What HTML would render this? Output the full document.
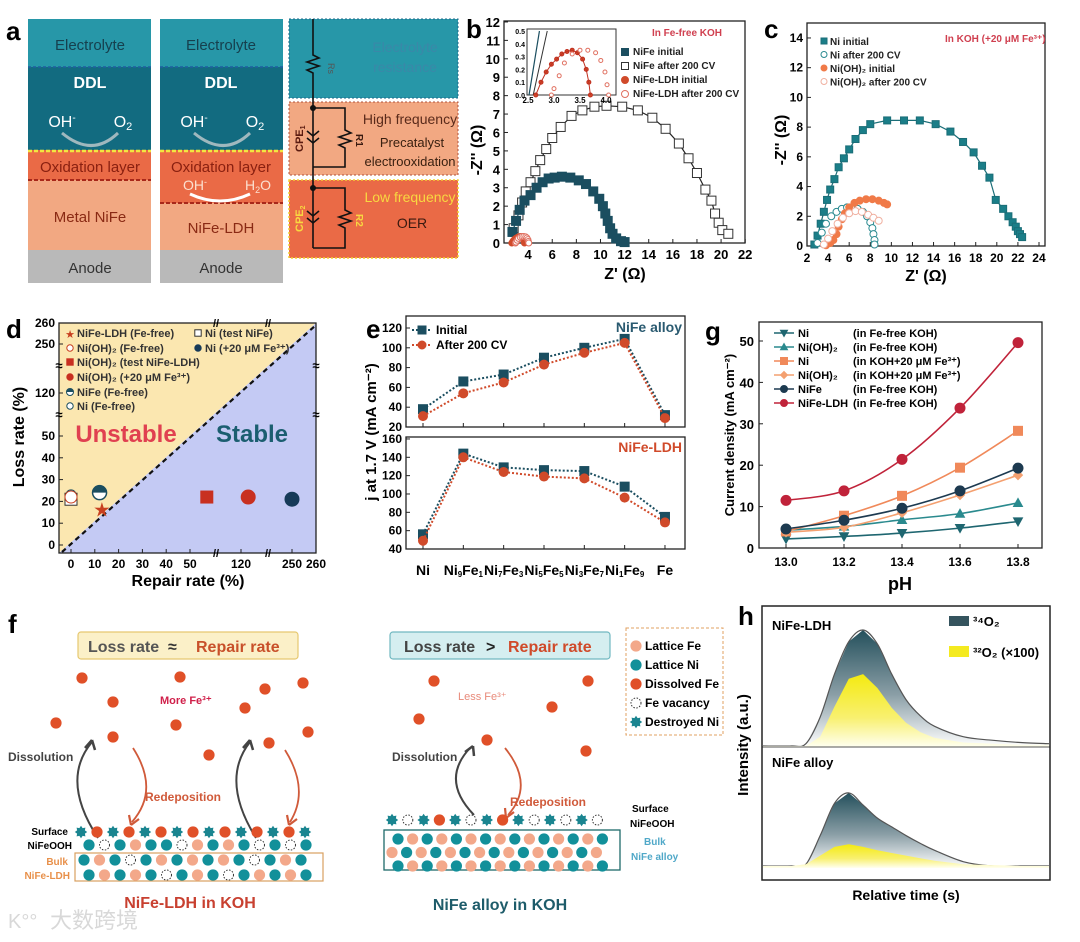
<!DOCTYPE html>
<html><head><meta charset="utf-8"><style>
html,body{margin:0;padding:0;background:#fff;}
svg{display:block;font-family:"Liberation Sans",Arial,sans-serif;}
</style></head><body>
<svg id="root" width="1080" height="942" viewBox="0 0 1080 942" xmlns="http://www.w3.org/2000/svg">
<defs>
<linearGradient id="gDark" x1="0" y1="0" x2="0" y2="1"><stop offset="0" stop-color="#24505c"/><stop offset="0.55" stop-color="#8a9ea6"/><stop offset="1" stop-color="#ffffff"/></linearGradient>
<linearGradient id="gYel" x1="0" y1="0" x2="0" y2="1"><stop offset="0" stop-color="#f4ea10"/><stop offset="0.6" stop-color="#f8f070"/><stop offset="1" stop-color="#fffff0"/></linearGradient>
</defs>

<!-- ===== Panel a ===== -->
<g>
<text x="6" y="40" font-size="26" font-weight="bold">a</text>
<g>
<rect x="28" y="19" width="123" height="48" fill="#2797a8"/>
<rect x="28" y="67" width="123" height="83" fill="#126b80"/>
<line x1="28" y1="67" x2="151" y2="67" stroke="#1f5fa0" stroke-dasharray="3,2" stroke-width="1.5"/>
<rect x="28" y="150" width="123" height="30" fill="#ea6a46"/>
<rect x="28" y="180" width="123" height="70" fill="#f2a882"/>
<rect x="28" y="250" width="123" height="33" fill="#b9b9b9"/>
<line x1="28" y1="151" x2="151" y2="151" stroke="#f2e640" stroke-dasharray="4,2" stroke-width="2.5"/>
<line x1="28" y1="180" x2="151" y2="180" stroke="#a8281a" stroke-dasharray="4,2" stroke-width="2"/>
<text x="90" y="50" font-size="15" fill="#16404e" text-anchor="middle">Electrolyte</text>
<text x="90" y="88" font-size="16" font-weight="bold" fill="#fff" text-anchor="middle">DDL</text>
<text x="62" y="127" font-size="16" fill="#fff" text-anchor="middle">OH<tspan font-size="10" dy="-6">-</tspan></text>
<text x="123" y="127" font-size="16" fill="#fff" text-anchor="middle">O<tspan font-size="11" dy="3">2</tspan></text>
<path d="M62 133 Q92 158 118 133" fill="none" stroke="#9fb8be" stroke-width="3"/>
<text x="90" y="172" font-size="15" fill="#8a2010" text-anchor="middle">Oxidation layer</text>
<text x="90" y="222" font-size="15" fill="#8a2a14" text-anchor="middle">Metal NiFe</text>
<text x="90" y="273" font-size="15" fill="#333" text-anchor="middle">Anode</text>
</g>
<g>
<rect x="160" y="19" width="123" height="48" fill="#2797a8"/>
<rect x="160" y="67" width="123" height="83" fill="#126b80"/>
<line x1="160" y1="67" x2="283" y2="67" stroke="#1f5fa0" stroke-dasharray="3,2" stroke-width="1.5"/>
<rect x="160" y="150" width="123" height="53" fill="#ea6a46"/>
<rect x="160" y="203" width="123" height="47" fill="#f2a882"/>
<rect x="160" y="250" width="123" height="33" fill="#b9b9b9"/>
<line x1="160" y1="151" x2="283" y2="151" stroke="#f2e640" stroke-dasharray="4,2" stroke-width="2.5"/>
<line x1="160" y1="203" x2="283" y2="203" stroke="#a8281a" stroke-dasharray="4,2" stroke-width="2"/>
<text x="221" y="50" font-size="15" fill="#16404e" text-anchor="middle">Electrolyte</text>
<text x="221" y="88" font-size="16" font-weight="bold" fill="#fff" text-anchor="middle">DDL</text>
<text x="194" y="127" font-size="16" fill="#fff" text-anchor="middle">OH<tspan font-size="10" dy="-6">-</tspan></text>
<text x="255" y="127" font-size="16" fill="#fff" text-anchor="middle">O<tspan font-size="11" dy="3">2</tspan></text>
<path d="M194 133 Q224 158 250 133" fill="none" stroke="#9fb8be" stroke-width="3"/>
<text x="221" y="172" font-size="15" fill="#8a2010" text-anchor="middle">Oxidation layer</text>
<text x="195" y="190" font-size="14" fill="#fbe0d0" text-anchor="middle">OH<tspan font-size="9" dy="-5">-</tspan></text>
<text x="258" y="190" font-size="14" fill="#fbe0d0" text-anchor="middle">H<tspan font-size="9" dy="3">2</tspan><tspan dy="-3">O</tspan></text>
<path d="M190 194 Q220 208 250 194" fill="none" stroke="#fff" stroke-width="3"/>
<text x="221" y="233" font-size="15" fill="#8a2a14" text-anchor="middle">NiFe-LDH</text>
<text x="221" y="273" font-size="15" fill="#333" text-anchor="middle">Anode</text>
</g>
<g>
<rect x="289" y="19" width="169" height="79" fill="#2797a8" stroke="#1a6a8a" stroke-dasharray="2,2"/>
<rect x="289" y="102" width="169" height="73" fill="#f2a882" stroke="#b0503a" stroke-dasharray="2,2"/>
<rect x="289" y="180" width="169" height="78" fill="#ea6a46" stroke="#f4d030" stroke-dasharray="2,2" stroke-width="1.5"/>
<text x="405" y="52" font-size="14" fill="#3a88a8" text-anchor="middle">Electrolyte</text>
<text x="405" y="72" font-size="14" fill="#3a88a8" text-anchor="middle">resistance</text>
<text x="410" y="124" font-size="14" fill="#5a2a1a" text-anchor="middle">High frequency</text>
<text x="412" y="147" font-size="13" fill="#3a2010" text-anchor="middle">Precatalyst</text>
<text x="410" y="166" font-size="13" fill="#3a2010" text-anchor="middle">electrooxidation</text>
<text x="410" y="202" font-size="14" fill="#f8d840" text-anchor="middle">Low frequency</text>
<text x="412" y="228" font-size="14" fill="#3a1a10" text-anchor="middle">OER</text>
<path d="M313 19 V55 l6 3 -12 4 12 4 -12 4 6 3 V108 V188 V248" fill="none" stroke="#111" stroke-width="1.6"/>
<path d="M313 108 H345 V130 l6 3 -12 4 12 4 -12 4 6 3 V167 H313" fill="none" stroke="#111" stroke-width="1.6"/>
<path d="M313 188 H345 V210 l6 3 -12 4 12 4 -12 4 6 3 V248 H313" fill="none" stroke="#111" stroke-width="1.6"/>
<path d="M307 131 l6 5 6 -5 M307 138 l6 5 6 -5 M307 211 l6 5 6 -5 M307 218 l6 5 6 -5" fill="none" stroke="#111" stroke-width="1.6"/>
<circle cx="313" cy="108" r="3" fill="#111"/><circle cx="313" cy="188" r="3" fill="#111"/>
<text x="328" y="63" font-size="9" fill="#555" transform="rotate(90 328 63)">Rs</text>
<text transform="translate(303,152) rotate(-90)" font-size="11" font-weight="bold" fill="#5a1a10">CPE<tspan font-size="7" dy="2">1</tspan></text>
<text transform="translate(303,232) rotate(-90)" font-size="11" font-weight="bold" fill="#f8d840">CPE<tspan font-size="7" dy="2">2</tspan></text>
<text x="356" y="134" font-size="10" font-weight="bold" fill="#3a1a10" transform="rotate(90 356 134)">R1</text>
<text x="356" y="214" font-size="10" font-weight="bold" fill="#f8d840" transform="rotate(90 356 214)">R2</text>
</g>
</g>

<!-- static labels -->
<text x="466" y="38" font-size="26" font-weight="bold">b</text>
<text x="764" y="38" font-size="26" font-weight="bold">c</text>
<text x="6" y="338" font-size="26" font-weight="bold">d</text>
<text x="366" y="338" font-size="26" font-weight="bold">e</text>
<text x="705" y="340" font-size="26" font-weight="bold">g</text>
<text x="8" y="633" font-size="26" font-weight="bold">f</text>
<text x="738" y="625" font-size="26" font-weight="bold">h</text>

<g id="gb"></g>
<g id="gc"></g>
<g id="gd"></g>
<g id="ge"></g>
<g id="gg"></g>
<g id="gf"></g>
<g id="gh"></g>

<text x="50" y="928" font-size="22" fill="#d8d8d8" font-family="'Liberation Sans','Noto Sans CJK SC',sans-serif">大数跨境</text>
<text x="8" y="928" font-size="20" fill="#d8d8d8">K°°</text>
</svg>
<script>
const NS="http://www.w3.org/2000/svg";
function mk(tag,a,p){const e=document.createElementNS(NS,tag);for(const k in a)e.setAttribute(k,a[k]);p.appendChild(e);return e;}
function txt(p,x,y,s,sz,o){o=o||{};const t=mk('text',Object.assign({x:x,y:y,'font-size':sz},o),p);t.textContent=s;return t;}
function marker(p,type,x,y,r,fill,stroke){let e;
 if(type==='sq')e=mk('rect',{x:x-r,y:y-r,width:2*r,height:2*r,fill:fill,stroke:stroke,'stroke-width':1},p);
 else if(type==='ci')e=mk('circle',{cx:x,cy:y,r:r,fill:fill,stroke:stroke,'stroke-width':1},p);
 else if(type==='tu')e=mk('path',{d:`M${x} ${y-r} L${x+r} ${y+r*0.8} L${x-r} ${y+r*0.8}Z`,fill:fill,stroke:stroke},p);
 else if(type==='td')e=mk('path',{d:`M${x} ${y+r} L${x+r} ${y-r*0.8} L${x-r} ${y-r*0.8}Z`,fill:fill,stroke:stroke},p);
 else if(type==='di')e=mk('path',{d:`M${x} ${y-r} L${x+r} ${y} L${x} ${y+r} L${x-r} ${y}Z`,fill:fill,stroke:stroke},p);
 return e;}
function poly(xs,ys,fx,fy){return xs.map((v,i)=>(i?'L':'M')+fx(v).toFixed(1)+' '+fy(ys[i]).toFixed(1)).join(' ');}
function smooth(xs,ys,fx,fy){const P=xs.map((v,i)=>[fx(v),fy(ys[i])]);let d=`M${P[0][0]} ${P[0][1]}`;
 for(let i=0;i<P.length-1;i++){const p0=P[i-1]||P[i],p1=P[i],p2=P[i+1],p3=P[i+2]||p2;
 d+=` C${p1[0]+(p2[0]-p0[0])/6} ${p1[1]+(p2[1]-p0[1])/6} ${p2[0]-(p3[0]-p1[0])/6} ${p2[1]-(p3[1]-p1[1])/6} ${p2[0]} ${p2[1]}`;}return d;}

/* ===== Panel b data ===== */
const bNiFeInitX=[2.7,3.0,3.3,3.7,4.2,4.7,5.2,5.7,6.2,6.8,7.5,8.2,8.8,9.4,9.9,10.2,10.4,10.6,10.8,11.0,11.3,11.7,12.0];
const bNiFeInitY=[0.6,1.2,1.8,2.3,2.6,3.0,3.3,3.5,3.55,3.6,3.55,3.4,3.2,2.8,2.4,2.0,1.6,1.2,0.8,0.5,0.25,0.1,0.05];
const bNiFeAftX=[2.8,3.2,3.5,3.8,4.2,4.6,5.0,5.5,6.0,6.7,7.6,8.5,9.5,10.5,11.8,13.1,14.3,15.4,16.5,17.3,18.0,18.7,19.2,19.5,19.8,20.1,20.6];
const bNiFeAftY=[0.8,1.5,2.2,2.8,3.3,3.9,4.5,5.1,5.7,6.3,6.9,7.2,7.4,7.45,7.4,7.2,6.8,6.2,5.4,4.6,3.8,2.9,2.3,1.6,1.1,0.7,0.5];
const bLdhInitX=[2.65,2.75,2.85,2.95,3.05,3.15,3.25,3.35,3.45,3.55,3.62,3.67,3.7];
const bLdhInitY=[0,0.1,0.18,0.24,0.28,0.32,0.34,0.35,0.33,0.28,0.2,0.1,0];
const bLdhAftX=[2.95,3.0,3.1,3.2,3.35,3.5,3.65,3.8,3.9,3.98,4.02,4.05];
const bLdhAftY=[0,0.05,0.15,0.25,0.32,0.35,0.35,0.33,0.27,0.18,0.08,0];
const bXTicks=[4,6,8,10,12,14,16,18,20,22];
const bYTicks=[0,1,2,3,4,5,6,7,8,9,10,11,12];
(function(){const g=document.getElementById('gb');
 const X=v=>504+(v-2)*12.06, Y=v=>243-v*18.42;
 const ax=mk('rect',{x:504,y:21,width:241,height:222,fill:'none',stroke:'#222','stroke-width':1.3},g);
 
 bXTicks.forEach(v=>{mk('line',{x1:X(v),y1:243,x2:X(v),y2:239,stroke:'#222'},g);txt(g,X(v),259,v,13,{'text-anchor':'middle','font-weight':'bold'});});
 bYTicks.forEach(v=>{mk('line',{x1:504,y1:Y(v),x2:508,y2:Y(v),stroke:'#222'},g);txt(g,500,Y(v)+5,v,13,{'text-anchor':'end','font-weight':'bold'});});
 const yl=txt(g,0,0,"-Z'' (Ω)",16,{'font-weight':'bold',transform:'translate(482,150) rotate(-90)','text-anchor':'middle'});
 
 const xl=txt(g,625,279,"Z' (Ω)",16,{'font-weight':'bold','text-anchor':'middle'});
 
 const s1=mk('path',{d:poly(bNiFeAftX,bNiFeAftY,X,Y),fill:'none',stroke:'#222','stroke-width':1.2},g);
 
 bNiFeAftX.forEach((v,i)=>marker(g,'sq',X(v),Y(bNiFeAftY[i]),4.5,'#fff','#333'));
 mk('path',{d:poly(bNiFeInitX,bNiFeInitY,X,Y),fill:'none',stroke:'#1b4e60','stroke-width':1.2},g);
 bNiFeInitX.forEach((v,i)=>marker(g,'sq',X(v),Y(bNiFeInitY[i]),4.5,'#1b4e60','#1b4e60'));
 bLdhInitX.forEach((v,i)=>marker(g,'ci',X(v),Y(bLdhInitY[i]),3,'#d04a2a','#d04a2a'));
 bLdhAftX.forEach((v,i)=>marker(g,'ci',X(v),Y(bLdhAftY[i]),3,'#fff','#e07060'));
 const XI=v=>528+(v-2.5)*52, YI=v=>95-v*128;
 const ib=mk('rect',{x:527,y:29,width:89,height:66,fill:'#fff',stroke:'#333'},g);
 
 [2.5,3.0,3.5,4.0].forEach(v=>txt(g,XI(v),103,v.toFixed(1),8,{'text-anchor':'middle','font-weight':'bold'}));
 [0,0.1,0.2,0.3,0.4,0.5].forEach(v=>txt(g,525,YI(v)+3,v.toFixed(1),7,{'text-anchor':'end','font-weight':'bold'}));
 mk('path',{d:'M'+XI(2.52)+' 95 L'+XI(2.72)+' 31',stroke:'#1b4e60','stroke-width':1.2},g);
 mk('path',{d:'M'+XI(2.6)+' 95 L'+XI(2.87)+' 31',stroke:'#333','stroke-width':1},g);
 bLdhInitX.forEach((v,i)=>marker(g,'ci',XI(v),YI(bLdhInitY[i]),2,'#d04a2a','#c03020'));
 mk('path',{d:poly(bLdhInitX,bLdhInitY,XI,YI),fill:'none',stroke:'#c03020','stroke-width':1},g);
 bLdhAftX.forEach((v,i)=>marker(g,'ci',XI(v),YI(bLdhAftY[i]),2,'#fff','#e07060'));
 const lg=mk('g',{},g);
 txt(lg,652,36,'In Fe-free KOH',10,{fill:'#d04050','font-weight':'bold'});
 const L=[['sq','#1b4e60','#1b4e60','NiFe initial'],['sq','#fff','#333','NiFe after 200 CV'],['ci','#d04a2a','#d04a2a','NiFe-LDH initial'],['ci','#fff','#e07060','NiFe-LDH after 200 CV']];
 L.forEach((l,i)=>{const y=55+i*14;marker(lg,l[0],625,y-3,3.5,l[1],l[2]);txt(lg,633,y,l[3],10,{'font-weight':'bold',fill:'#222'});});
})();

/* ===== Panel c data ===== */
const cNiInitX=[2.7,3.0,3.3,3.6,3.9,4.2,4.6,5.0,5.5,6.0,6.6,7.3,8.0,9.6,11.2,12.7,14.2,15.6,16.8,17.8,18.6,19.3,19.9,20.6,21.1,21.5,21.8,22.0,22.2,22.4];
const cNiInitY=[0.1,0.7,1.5,2.3,3.1,3.8,4.5,5.3,5.9,6.5,7.2,7.8,8.2,8.45,8.45,8.45,8.2,7.7,7.0,6.3,5.4,4.6,3.1,2.5,2.0,1.6,1.3,1.0,0.8,0.6];
const cNiAftX=[3.0,3.4,3.8,4.3,4.8,5.3,5.8,6.3,6.8,7.3,7.7,8.0,8.2,8.3,8.4,8.4];
const cNiAftY=[0.2,0.9,1.5,2.0,2.3,2.5,2.6,2.6,2.5,2.3,2.0,1.6,1.2,0.8,0.4,0.1];
const cOhInitX=[3.8,4.2,4.5,4.8,5.0,5.3,5.6,6.0,6.5,7.0,7.6,8.2,8.8,9.3,9.6];
const cOhInitY=[0.05,0.2,0.4,0.8,1.3,1.8,2.2,2.6,2.9,3.05,3.15,3.15,3.05,2.9,2.8];
const cOhAftX=[3.6,4.0,4.4,4.9,5.4,6.0,6.6,7.2,7.8,8.3,8.8];
const cOhAftY=[0.1,0.5,1.0,1.5,1.9,2.2,2.35,2.3,2.1,1.9,1.7];
const cXTicks=[2,4,6,8,10,12,14,16,18,20,22,24];
const cYTicks=[0,2,4,6,8,10,12,14];
(function(){const g=document.getElementById('gc');
 const X=v=>807+(v-2)*10.545, Y=v=>246-v*14.86;
 const f=mk('rect',{x:807,y:23,width:238,height:223,fill:'none',stroke:'#222','stroke-width':1.3},g);
 
 cXTicks.forEach(v=>{mk('line',{x1:X(v),y1:246,x2:X(v),y2:242,stroke:'#222'},g);txt(g,X(v),262,v,12,{'text-anchor':'middle','font-weight':'bold'});});
 cYTicks.forEach(v=>{mk('line',{x1:807,y1:Y(v),x2:811,y2:Y(v),stroke:'#222'},g);txt(g,803,Y(v)+4,v,12,{'text-anchor':'end','font-weight':'bold'});});
 const yl=txt(g,0,0,"-Z'' (Ω)",16,{'font-weight':'bold',transform:'translate(786,140) rotate(-90)','text-anchor':'middle'});
 
 const xl=txt(g,926,281,"Z' (Ω)",16,{'font-weight':'bold','text-anchor':'middle'});
 
 mk('path',{d:poly(cNiInitX,cNiInitY,X,Y),fill:'none',stroke:'#1b6e78','stroke-width':1.2},g);
 cNiInitX.forEach((v,i)=>marker(g,'sq',X(v),Y(cNiInitY[i]),3.5,'#1b7e88','#1b6e78'));
 cNiAftX.forEach((v,i)=>marker(g,'ci',X(v),Y(cNiAftY[i]),3.5,'#fff','#2a8a90'));
 cOhInitX.forEach((v,i)=>marker(g,'ci',X(v),Y(cOhInitY[i]),3.5,'#f07a48','#f07a48'));
 cOhAftX.forEach((v,i)=>marker(g,'ci',X(v),Y(cOhAftY[i]),3.5,'#fff','#f0b0a0'));
 const lg=mk('g',{},g);
 txt(lg,945,42,'In KOH (+20 μM Fe³⁺)',10,{fill:'#d04050','font-weight':'bold'});
 const L=[['sq','#1b7e88','#1b6e78','Ni  initial'],['ci','#fff','#2a8a90','Ni  after 200 CV'],['ci','#f07a48','#f07a48','Ni(OH)₂ initial'],['ci','#fff','#f0b0a0','Ni(OH)₂ after 200 CV']];
 L.forEach((l,i)=>{const y=45+i*13.5;marker(lg,l[0],824,y-4,3,l[1],l[2]);txt(lg,830,y,l[3],10,{'font-weight':'bold',fill:'#222'});});
})();

/* ===== Panel d data ===== */
const dNames=['NiFe-LDH (Fe-free)','Ni(OH)₂ (Fe-free)','Ni(OH)₂ (test NiFe-LDH)','Ni(OH)₂ (+20 μM Fe³⁺)','NiFe (Fe-free)','Ni (Fe-free)','Ni (test NiFe)','Ni (+20 μM Fe³⁺)'];
const dRepair=[13,0,57,123,12,0,0,250];
const dLoss=[16,22,22,22,24,23,21,21];
const dXTicks=[0,10,20,30,40,50,120,250,260];
const dYTicks=[0,10,20,30,40,50,120,250,260];
(function(){const g=document.getElementById('gd');
 const xa=[0,50,60,110,120,130,240,250,260],xp=[71,190,214,217,241,265,268,292,316];
 const ya=[0,50,55,110,120,130,240,250,260],yp=[545,436,425,415,393,366,364,344,323];
 const pw=(a,p)=>v=>{for(let i=0;i<a.length-1;i++){if(v<=a[i+1]||i===a.length-2)return p[i]+(v-a[i])/(a[i+1]-a[i])*(p[i+1]-p[i]);}};
 const X=pw(xa,xp),Y=pw(ya,yp);
 mk('path',{d:'M59 323 H316 L59 553Z',fill:'#fbe7b0'},g);
 mk('path',{d:'M316 323 V553 H59Z',fill:'#c4caf4'},g);
 const dl=mk('line',{x1:62,y1:552,x2:316,y2:325,stroke:'#111','stroke-width':2.2,'stroke-dasharray':'5,4'},g);
 
 const f=mk('rect',{x:59,y:323,width:257,height:230,fill:'none',stroke:'#222','stroke-width':1.3},g);
 
 dXTicks.forEach(v=>{mk('line',{x1:X(v),y1:553,x2:X(v),y2:549,stroke:'#222'},g);txt(g,X(v),568,v,12,{'text-anchor':'middle','font-weight':'bold'});});
 dYTicks.forEach(v=>{mk('line',{x1:59,y1:Y(v),x2:63,y2:Y(v),stroke:'#222'},g);txt(g,55,Y(v)+4,v,12,{'text-anchor':'end','font-weight':'bold'});});
 [[216,323],[268,323],[216,553],[268,553]].forEach(p=>txt(g,p[0],p[1]+4,'//',11,{'text-anchor':'middle','font-weight':'bold'}));
 [[59,366],[59,415],[316,366],[316,415]].forEach(p=>txt(g,p[0],p[1]+4,'≈',13,{'text-anchor':'middle','font-weight':'bold'}));
 const yl=txt(g,0,0,'Loss rate (%)',16,{'font-weight':'bold',transform:'translate(24,437) rotate(-90)','text-anchor':'middle'});
 
 const xl=txt(g,188,586,'Repair rate (%)',16,{'font-weight':'bold','text-anchor':'middle'});
 
 const us=txt(g,126,442,'Unstable',24,{'font-weight':'bold',fill:'#e04050','text-anchor':'middle'});
 
 const st=txt(g,252,442,'Stable',24,{'font-weight':'bold',fill:'#1b5e70','text-anchor':'middle'});
 
 const sty=[['star','#c84020','#c84020',7],['ci','#fff','#c84020',6],['sq','#c83020','#c83020',6],['ci','#c83020','#c83020',7],['half','#1b4e60','#1b4e60',7],['ci','#fff','#1b4e60',5],['sq','#fff','#333',6],['ci','#163a58','#163a58',7]];
 const order=[6,5,1,4,2,3,7,0];
 order.forEach(i=>{const x=X(dRepair[i]),y=Y(dLoss[i]),s=sty[i];let e;
  if(s[0]==='star'){let d='';for(let k=0;k<10;k++){const r=k%2?3:8,a=-Math.PI/2+k*Math.PI/5;d+=(k?'L':'M')+(x+r*Math.cos(a)).toFixed(1)+' '+(y+r*Math.sin(a)).toFixed(1);}e=mk('path',{d:d+'Z',fill:s[1]},g);}
  else if(s[0]==='half'){e=mk('g',{},g);mk('circle',{cx:x,cy:y,r:7,fill:'#fff',stroke:'#1b4e60','stroke-width':1.5},e);mk('path',{d:`M${x-7} ${y} A7 7 0 0 1 ${x+7} ${y}Z`,fill:'#1b4e60'},e);}
  else e=marker(g,s[0],x,y,s[3],s[1],s[2]);
  });
 const lg=mk('g',{},g);
 const lp=[[70,337,0],[70,352,1],[70,366,2],[70,381,3],[70,396,4],[70,410,5],[198,337,6],[198,352,7]];
 lp.forEach(p=>{const s=sty[p[2]];const x=p[0],y=p[1]-4;
  if(s[0]==='star')txt(lg,x,y+5,'★',11,{fill:'#c84020','text-anchor':'middle'});
  else if(s[0]==='half'){mk('circle',{cx:x,cy:y,r:3.5,fill:'#fff',stroke:'#1b4e60'},lg);mk('path',{d:`M${x-3.5} ${y} A3.5 3.5 0 0 1 ${x+3.5} ${y}Z`,fill:'#1b4e60'},lg);}
  else marker(lg,s[0],x,y,3.2,s[1],s[2]);
  txt(lg,x+7,p[1],dNames[p[2]],11,{'font-weight':'bold',fill:'#333'});});
})();

/* ===== Panel e data ===== */
const eCats=[['Ni'],['Ni','9','Fe','1'],['Ni','7','Fe','3'],['Ni','5','Fe','5'],['Ni','3','Fe','7'],['Ni','1','Fe','9'],['Fe']];
const eAlloyInit=[38,66,73,90,100,109,32];
const eAlloyAfter=[31,54,65,83,95,105,29];
const eLdhInit=[56,144,129,126,125,108,75];
const eLdhAfter=[49,140,124,119,117,96,69];
const eTopTicks=[20,40,60,80,100,120];
const eBotTicks=[40,60,80,100,120,140,160];
(function(){const g=document.getElementById('ge');
 const X=i=>423+i*40.33, YT=v=>427-(v-20)*0.99, YB=v=>549-(v-40)*0.917;
 const f1=mk('rect',{x:406,y:316,width:279,height:111,fill:'none',stroke:'#222','stroke-width':1.3},g);
 
 const f2=mk('rect',{x:406,y:437,width:279,height:112,fill:'none',stroke:'#222','stroke-width':1.3},g);
 
 eTopTicks.forEach(v=>{mk('line',{x1:406,y1:YT(v),x2:410,y2:YT(v),stroke:'#222'},g);txt(g,402,YT(v)+4,v,12,{'text-anchor':'end','font-weight':'bold'});});
 eBotTicks.forEach(v=>{mk('line',{x1:406,y1:YB(v),x2:410,y2:YB(v),stroke:'#222'},g);txt(g,402,YB(v)+4,v,12,{'text-anchor':'end','font-weight':'bold'});});
 eCats.forEach((c,i)=>{mk('line',{x1:X(i),y1:427,x2:X(i),y2:423,stroke:'#222'},g);mk('line',{x1:X(i),y1:549,x2:X(i),y2:545,stroke:'#222'},g);
  const t=mk('text',{x:X(i),y:575,'font-size':14,'font-weight':'bold','text-anchor':'middle'},g);
  c.forEach((s,k)=>{const sp=mk('tspan',k%2?{'font-size':8,dy:2}:{'font-size':14,dy:k?-2:0},t);sp.textContent=s;});});
 const yl=txt(g,0,0,'j at 1.7 V (mA cm⁻²)',15,{'font-weight':'bold',transform:'translate(376,432) rotate(-90)','text-anchor':'middle'});
 
 const idx=eCats.map((c,i)=>i);
 [[eAlloyInit,YT,'#1b4e60','sq'],[eAlloyAfter,YT,'#d04a2a','ci'],[eLdhInit,YB,'#1b4e60','sq'],[eLdhAfter,YB,'#d04a2a','ci']].forEach((s,k)=>{
  const p=mk('path',{d:poly(idx,s[0],X,s[1]),fill:'none',stroke:s[2],'stroke-width':2,'stroke-dasharray':'2,2'},g);
  
  s[0].forEach((v,i)=>marker(g,s[3],X(i),s[1](v),4.5,s[2],s[2]));});
 const lg=mk('g',{},g);
 mk('line',{x1:412,y1:330,x2:432,y2:330,stroke:'#1b4e60','stroke-width':2,'stroke-dasharray':'2,2'},lg);marker(lg,'sq',422,330,4,'#1b4e60','#1b4e60');
 txt(lg,436,334,'Initial',12,{'font-weight':'bold'});
 mk('line',{x1:412,y1:345,x2:432,y2:345,stroke:'#d04a2a','stroke-width':2,'stroke-dasharray':'2,2'},lg);marker(lg,'ci',422,345,4,'#d04a2a','#d04a2a');
 txt(lg,436,349,'After 200 CV',12,{'font-weight':'bold'});
 txt(g,682,332,'NiFe alloy',14,{'text-anchor':'end','font-weight':'bold',fill:'#2a5a70'});
 txt(g,682,452,'NiFe-LDH',14,{'text-anchor':'end','font-weight':'bold',fill:'#d04a2a'});
})();

/* ===== Panel g data ===== */
const gPH=[13.0,13.2,13.4,13.6,13.8];
const gNi=[2.2,2.8,3.6,4.8,6.4];
const gNiOH=[4.3,5.2,6.8,8.3,10.9];
const gNiFe3=[4.0,7.8,12.6,19.4,28.3];
const gNiOHFe3=[3.8,5.0,8.5,12.8,17.6];
const gNiFe=[4.6,6.7,9.6,13.8,19.3];
const gLDH=[11.5,13.8,21.4,33.8,49.6];
const gXTicks=[13.0,13.2,13.4,13.6,13.8];
const gYTicks=[0,10,20,30,40,50];
(function(){const g=document.getElementById('gg');
 const X=v=>786+(v-13)*290, Y=v=>548-v*4.14;
 const f=mk('rect',{x:759,y:322,width:283,height:226,fill:'none',stroke:'#222','stroke-width':1.3},g);
 
 gXTicks.forEach(v=>{mk('line',{x1:X(v),y1:548,x2:X(v),y2:544,stroke:'#222'},g);txt(g,X(v),566,v.toFixed(1),12,{'text-anchor':'middle','font-weight':'bold'});});
 gYTicks.forEach(v=>{mk('line',{x1:759,y1:Y(v),x2:763,y2:Y(v),stroke:'#222'},g);txt(g,754,Y(v)+5,v,13,{'text-anchor':'end','font-weight':'bold'});});
 const yl=txt(g,0,0,'Current density (mA cm⁻²)',13,{'font-weight':'bold',transform:'translate(734,435) rotate(-90)','text-anchor':'middle'});
 
 const xl=txt(g,900,590,'pH',18,{'font-weight':'bold','text-anchor':'middle'});
 
 const S=[[gNi,'#1e6670','td','Ni','(in Fe-free KOH)'],[gNiOH,'#2a8a8e','tu','Ni(OH)₂','(in Fe-free KOH)'],[gNiFe3,'#f0895a','sq','Ni','(in KOH+20 μM Fe³⁺)'],[gNiOHFe3,'#f4a070','di','Ni(OH)₂','(in KOH+20 μM Fe³⁺)'],[gNiFe,'#1d3a50','ci','NiFe','(in Fe-free KOH)'],[gLDH,'#c0233a','ci','NiFe-LDH','(in Fe-free KOH)']];
 S.forEach(s=>{const p=mk('path',{d:smooth(gPH,s[0],X,Y),fill:'none',stroke:s[1],'stroke-width':1.6},g);
  
  s[0].forEach((v,i)=>marker(g,s[2],X(gPH[i]),Y(v),s[2]==='ci'?5:4.5,s[1],s[1]));});
 const lg=mk('g',{},g);
 S.forEach((s,i)=>{const y=333+i*14;mk('line',{x1:774,y1:y,x2:794,y2:y,stroke:s[1],'stroke-width':1.6},lg);marker(lg,s[2],784,y,3.5,s[1],s[1]);
  txt(lg,798,y+4,s[3],11,{'font-weight':'bold'});txt(lg,853,y+4,s[4],11,{'font-weight':'bold'});});
})();

/* ===== Panel f diagram ===== */
(function(){const g=document.getElementById('gf');
 const TEAL='#12909a',FE='#f3a88a',RED='#e05028';
 function star(p,x,y){let d='';for(let k=0;k<16;k++){const r=k%2?4.2:6.2,a=k*Math.PI/8;d+=(k?'L':'M')+(x+r*Math.cos(a)).toFixed(1)+' '+(y+r*Math.sin(a)).toFixed(1);}mk('path',{d:d+'Z',fill:'#1a8590'},p);}
 function vac(p,x,y){mk('circle',{cx:x,cy:y,r:5,fill:'#fff',stroke:'#333','stroke-dasharray':'1.5,1.5'},p);}
 function dot(p,x,y,c){mk('circle',{cx:x,cy:y,r:5.6,fill:c},p);}
 const L=mk('g',{},g);
 const b1=mk('rect',{x:78,y:632,width:220,height:27,rx:3,fill:'#fbf0c8',stroke:'#e6c870','stroke-width':1.2},L);
 
 txt(L,88,652,'Loss rate',16,{'font-weight':'bold',fill:'#555'});txt(L,168,652,'≈',16,{'font-weight':'bold',fill:'#333'});txt(L,196,652,'Repair rate',16,{'font-weight':'bold',fill:'#c8502a'});
 [[82,678],[180,677],[113,702],[56,723],[176,725],[113,737],[209,755],[265,689],[303,683],[245,708],[308,732],[269,743]].forEach(p=>dot(L,p[0],p[1],RED));
 txt(L,160,704,'More Fe³⁺',11,{'font-weight':'bold',fill:'#d0204a'});
 txt(L,8,761,'Dissolution',12,{'font-weight':'bold',fill:'#444'});
 txt(L,145,801,'Redeposition',12,{'font-weight':'bold',fill:'#d05a3a'});
 mk('path',{d:'M98 838 Q60 780 92 742',fill:'none',stroke:'#444','stroke-width':2},L);mk('path',{d:'M92 740 l-7 8 M92 740 l3 10',stroke:'#444','stroke-width':2.5},L);
 mk('path',{d:'M256 838 Q220 780 250 742',fill:'none',stroke:'#444','stroke-width':2},L);mk('path',{d:'M250 740 l-7 8 M250 740 l3 10',stroke:'#444','stroke-width':2.5},L);
 mk('path',{d:'M133 748 Q160 790 132 822',fill:'none',stroke:'#d05a3a','stroke-width':1.8},L);mk('path',{d:'M131 825 l-2 -10 M131 825 l8 -6',stroke:'#d05a3a','stroke-width':2.2},L);
 mk('path',{d:'M285 750 Q310 790 290 822',fill:'none',stroke:'#d05a3a','stroke-width':1.8},L);mk('path',{d:'M289 825 l-2 -10 M289 825 l8 -6',stroke:'#d05a3a','stroke-width':2.2},L);
 for(let i=0;i<15;i++){const x=81+i*16;if(i%2===0)star(L,x,832);else dot(L,x,832,RED);}
 const r2=['n','v','n','f','n','n','v','f','n','f','n','v','n','v','n'];
 r2.forEach((t,i)=>{const x=89+i*15.5;if(t==='v')vac(L,x,845);else dot(L,x,845,t==='f'?FE:TEAL);});
 const bb=mk('rect',{x:75,y:853,width:248,height:28,fill:'none',stroke:'#d8a060','stroke-width':1.2},L);
 
 const r3=['n','f','n','v','n','f','n','f','n','f','n','v','n','f','n'];
 const r4=['n','f','n','f','n','v','n','f','n','v','n','f','n','f','n'];
 r3.forEach((t,i)=>{const x=84+i*15.5;if(t==='v')vac(L,x,860);else dot(L,x,860,t==='f'?FE:TEAL);});
 r4.forEach((t,i)=>{const x=89+i*15.5;if(t==='v')vac(L,x,875);else dot(L,x,875,t==='f'?FE:TEAL);});
 txt(L,68,835,'Surface',10,{'font-weight':'bold','text-anchor':'end'});txt(L,72,849,'NiFeOOH',10,{'font-weight':'bold','text-anchor':'end'});
 txt(L,68,865,'Bulk',10,{'font-weight':'bold','text-anchor':'end',fill:'#e8904a'});txt(L,70,879,'NiFe-LDH',10,{'font-weight':'bold','text-anchor':'end',fill:'#e8904a'});
 const t1=txt(L,190,908,'NiFe-LDH in KOH',16,{'font-weight':'bold',fill:'#c84030','text-anchor':'middle'});
 
 const R=mk('g',{},g);
 const b2=mk('rect',{x:390,y:632,width:220,height:27,rx:3,fill:'#d5eef0',stroke:'#70b8c0','stroke-width':1.2},R);
 
 txt(R,404,652,'Loss rate',16,{'font-weight':'bold',fill:'#444'});txt(R,486,652,'>',16,{'font-weight':'bold',fill:'#222'});txt(R,508,652,'Repair rate',16,{'font-weight':'bold',fill:'#d04a2a'});
 [[434,681],[588,681],[552,707],[419,719],[487,740],[586,751]].forEach(p=>dot(R,p[0],p[1],RED));
 txt(R,458,700,'Less Fe³⁺',11,{fill:'#e88a7a'});
 txt(R,392,761,'Dissolution',12,{'font-weight':'bold',fill:'#444'});
 txt(R,510,806,'Redeposition',12,{'font-weight':'bold',fill:'#d05a3a'});
 mk('path',{d:'M474 815 Q440 780 470 748',fill:'none',stroke:'#444','stroke-width':2},R);mk('path',{d:'M473 746 l-8 6 M473 746 l1 10',stroke:'#444','stroke-width':2.5},R);
 mk('path',{d:'M505 748 Q535 785 508 815',fill:'none',stroke:'#d05a3a','stroke-width':1.8},R);mk('path',{d:'M506 818 l-1 -10 M506 818 l8 -6',stroke:'#d05a3a','stroke-width':2.2},R);
 const rs=['s','v','s','d','s','v','s','d','s','v','s','v','s','v'];
 rs.forEach((t,i)=>{const x=392+i*15.8;if(t==='s')star(R,x,820);else if(t==='v')vac(R,x,820);else dot(R,x,820,RED);});
 const ab=mk('rect',{x:384,y:830,width:236,height:40,fill:'none',stroke:'#1e6a6a','stroke-width':1.3},R);
 
 for(let r=0;r<3;r++){const off=r===1?392:398;for(let i=0;i<15;i++){dot(R,off+i*14.6,839+r*13.5,(i+r)%2?FE:TEAL);}}
 txt(R,632,812,'Surface',10,{'font-weight':'bold'});txt(R,630,827,'NiFeOOH',10,{'font-weight':'bold'});
 txt(R,644,845,'Bulk',10,{'font-weight':'bold',fill:'#50a8c8'});txt(R,631,860,'NiFe alloy',10,{'font-weight':'bold',fill:'#50a8c8'});
 const t2=txt(R,500,910,'NiFe alloy in KOH',16,{'font-weight':'bold',fill:'#1e5c6a','text-anchor':'middle'});
 
 const lg=mk('g',{},g);
 mk('rect',{x:626,y:628,width:97,height:107,fill:'none',stroke:'#e0a060','stroke-dasharray':'3,2'},lg);
 dot(lg,636,646,FE);txt(lg,645,650,'Lattice Fe',12,{'font-weight':'bold'});
 dot(lg,636,665,TEAL);txt(lg,645,669,'Lattice Ni',12,{'font-weight':'bold'});
 dot(lg,636,684,RED);txt(lg,645,688,'Dissolved Fe',12,{'font-weight':'bold'});
 vac(lg,636,703);txt(lg,645,707,'Fe vacancy',12,{'font-weight':'bold'});
 star(lg,636,722);txt(lg,645,726,'Destroyed Ni',12,{'font-weight':'bold'});
})();

/* ===== Panel h data ===== */
const hTime=[0,0.1,0.15,0.2,0.25,0.3,0.35,0.4,0.45,0.5,0.55,0.6,0.7,0.8,0.9,1.0];
const hLdh34=[0,0,0.02,0.25,0.62,0.9,1.0,0.88,0.62,0.4,0.26,0.17,0.08,0.05,0.03,0.02];
const hLdh32=[0,0,0,0.08,0.34,0.58,0.62,0.5,0.33,0.2,0.12,0.07,0.03,0.02,0.01,0.01];
const hAlloy34=[0,0,0.02,0.35,0.72,0.84,0.7,0.55,0.45,0.35,0.26,0.18,0.05,0.0,0,0];
const hAlloy32=[0,0,0.02,0.12,0.22,0.25,0.22,0.18,0.15,0.12,0.09,0.06,0.02,0.01,0,0];
(function(){const g=document.getElementById('gh');
 const X=v=>763+v*286;
 const YT=v=>746-v*116, YB=v=>866-v*87;
 function area(xs,ys,fy,base,fill,stroke,name){const d=poly(xs,ys,X,fy)+` L${X(1)} ${base} L${X(0)} ${base}Z`;
  const a=mk('path',{d:d,fill:fill,stroke:'none'},g);
  if(stroke)mk('path',{d:smooth(xs,ys,X,fy),fill:'none',stroke:stroke,'stroke-width':1.2},g);}
 area(hTime,hLdh34,YT,747,'url(#gDark)','#555','h-ldh-34o2');
 area(hTime,hLdh32,YT,747,'url(#gYel)',null,'h-ldh-32o2');
 area(hTime,hAlloy34,YB,868,'url(#gDark)','#555','h-alloy-34o2');
 area(hTime,hAlloy32,YB,868,'url(#gYel)',null,'h-alloy-32o2');
 mk('line',{x1:762,y1:747,x2:1050,y2:747,stroke:'#555','stroke-width':1},g);
 const f=mk('rect',{x:762,y:606,width:288,height:274,fill:'none',stroke:'#222','stroke-width':1.5},g);
 
 txt(g,772,630,'NiFe-LDH',13,{'font-weight':'bold'});txt(g,772,767,'NiFe alloy',13,{'font-weight':'bold'});
 const lg=mk('g',{},g);
 mk('rect',{x:949,y:616,width:20,height:10,fill:'#35545e'},lg);txt(lg,973,626,'³⁴O₂',13,{'font-weight':'bold'});
 mk('rect',{x:949,y:646,width:20,height:11,fill:'#f4ea20'},lg);txt(lg,973,657,'³²O₂ (×100)',13,{'font-weight':'bold'});
 const yl=txt(g,0,0,'Intensity (a.u.)',15,{'font-weight':'bold',transform:'translate(748,745) rotate(-90)','text-anchor':'middle'});
 
 const xl=txt(g,906,900,'Relative time (s)',14,{'font-weight':'bold','text-anchor':'middle'});
 
})();
</script>
</body></html>
